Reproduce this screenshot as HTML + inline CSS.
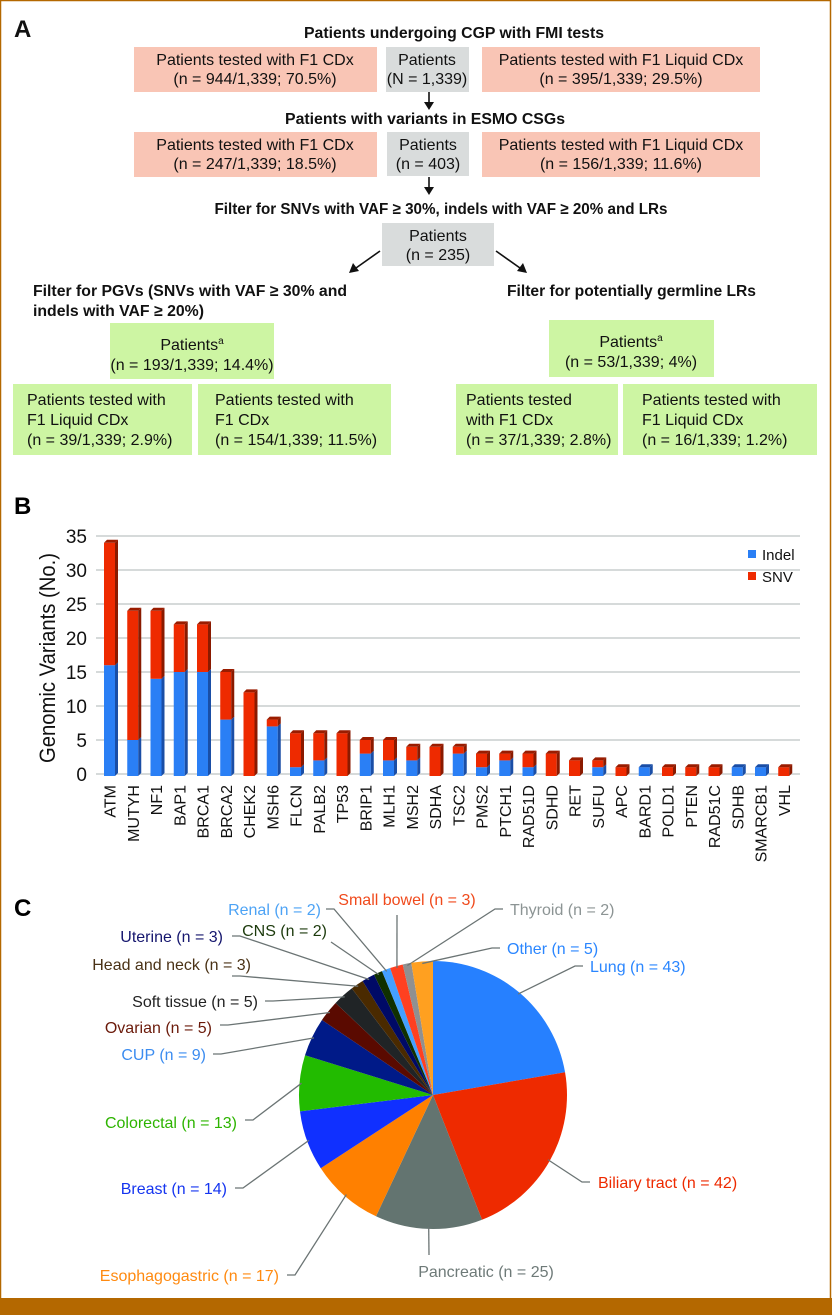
<!DOCTYPE html>
<html><head><meta charset="utf-8">
<style>
html,body{margin:0;padding:0;background:#fff;}
svg{display:block;font-family:"Liberation Sans",sans-serif;}
</style></head>
<body>
<svg id="fig" width="832" height="1315" viewBox="0 0 832 1315" xmlns="http://www.w3.org/2000/svg">
<rect x="0.5" y="0.5" width="830" height="1314" fill="#fff" stroke="#b46800" stroke-width="1.5"/>
<rect x="0" y="1298" width="832" height="17" fill="#b46800"/>

<!-- Panel A -->
<g id="panelA" font-size="16" fill="#111">
<text x="14" y="37" font-size="24" font-weight="bold">A</text>
<text x="454" y="38" text-anchor="middle" font-weight="bold" textLength="300" lengthAdjust="spacingAndGlyphs">Patients undergoing CGP with FMI tests</text>
<rect x="134" y="47" width="243" height="45" fill="#f9c5b5"/>
<text x="255" y="65" text-anchor="middle"><tspan x="255" dy="0">Patients tested with F1 CDx</tspan><tspan x="255" dy="19">(n = 944/1,339; 70.5%)</tspan></text>
<rect x="386" y="47" width="83" height="45" fill="#d9dcdc"/>
<text x="427" y="65" text-anchor="middle"><tspan x="427">Patients</tspan><tspan x="427" dy="19">(N = 1,339)</tspan></text>
<rect x="482" y="47" width="278" height="45" fill="#f9c5b5"/>
<text x="621" y="65" text-anchor="middle"><tspan x="621">Patients tested with F1 Liquid CDx</tspan><tspan x="621" dy="19">(n = 395/1,339; 29.5%)</tspan></text>

<text x="425" y="124" text-anchor="middle" font-weight="bold" textLength="280" lengthAdjust="spacingAndGlyphs">Patients with variants in ESMO CSGs</text>
<rect x="134" y="132" width="243" height="45" fill="#f9c5b5"/>
<text x="255" y="150" text-anchor="middle"><tspan x="255">Patients tested with F1 CDx</tspan><tspan x="255" dy="19">(n = 247/1,339; 18.5%)</tspan></text>
<rect x="387" y="132" width="82" height="44" fill="#d9dcdc"/>
<text x="428" y="150" text-anchor="middle"><tspan x="428">Patients</tspan><tspan x="428" dy="19">(n = 403)</tspan></text>
<rect x="482" y="132" width="278" height="45" fill="#f9c5b5"/>
<text x="621" y="150" text-anchor="middle"><tspan x="621">Patients tested with F1 Liquid CDx</tspan><tspan x="621" dy="19">(n = 156/1,339; 11.6%)</tspan></text>

<text x="441" y="214" text-anchor="middle" font-weight="bold" textLength="453" lengthAdjust="spacingAndGlyphs">Filter for SNVs with VAF ≥ 30%, indels with VAF ≥ 20% and LRs</text>
<rect x="382" y="223" width="112" height="43" fill="#d9dcdc"/>
<text x="438" y="241" text-anchor="middle"><tspan x="438">Patients</tspan><tspan x="438" dy="19">(n = 235)</tspan></text>

<g stroke="#111" stroke-width="1.6" fill="#111">
<line x1="429" y1="92" x2="429" y2="103"/><polygon points="424,102 434,102 429,110" stroke="none"/>
<line x1="429" y1="177" x2="429" y2="188"/><polygon points="424,187 434,187 429,195" stroke="none"/>
<line x1="380" y1="251" x2="356" y2="268"/><polygon points="349,273 353,263 359,271" stroke="none"/>
<line x1="496" y1="251" x2="520" y2="268"/><polygon points="527,273 517,271 523,263" stroke="none"/>
</g>

<text x="33" y="296" font-weight="bold" textLength="314" lengthAdjust="spacingAndGlyphs">Filter for PGVs (SNVs with VAF ≥ 30% and</text>
<text x="33" y="316" font-weight="bold" textLength="171" lengthAdjust="spacingAndGlyphs">indels with VAF ≥ 20%)</text>
<text x="507" y="296" font-weight="bold" textLength="249" lengthAdjust="spacingAndGlyphs">Filter for potentially germline LRs</text>

<rect x="110" y="323" width="164" height="56" fill="#cdf5a3"/>
<text x="192" y="350" text-anchor="middle"><tspan x="192">Patients<tspan font-size="10" dy="-6">a</tspan></tspan><tspan x="192" dy="26">(n = 193/1,339; 14.4%)</tspan></text>
<rect x="13" y="384" width="179" height="71" fill="#cdf5a3"/>
<text x="27" y="405"><tspan x="27">Patients tested with</tspan><tspan x="27" dy="20">F1 Liquid CDx</tspan><tspan x="27" dy="20">(n = 39/1,339; 2.9%)</tspan></text>
<rect x="198" y="384" width="193" height="71" fill="#cdf5a3"/>
<text x="215" y="405"><tspan x="215">Patients tested with</tspan><tspan x="215" dy="20">F1 CDx</tspan><tspan x="215" dy="20">(n = 154/1,339; 11.5%)</tspan></text>

<rect x="549" y="320" width="165" height="57" fill="#cdf5a3"/>
<text x="631" y="347" text-anchor="middle"><tspan x="631">Patients<tspan font-size="10" dy="-6">a</tspan></tspan><tspan x="631" dy="26">(n = 53/1,339; 4%)</tspan></text>
<rect x="456" y="384" width="162" height="71" fill="#cdf5a3"/>
<text x="466" y="405"><tspan x="466">Patients tested</tspan><tspan x="466" dy="20">with F1 CDx</tspan><tspan x="466" dy="20">(n = 37/1,339; 2.8%)</tspan></text>
<rect x="623" y="384" width="194" height="71" fill="#cdf5a3"/>
<text x="642" y="405"><tspan x="642">Patients tested with</tspan><tspan x="642" dy="20">F1 Liquid CDx</tspan><tspan x="642" dy="20">(n = 16/1,339; 1.2%)</tspan></text>
</g>

<!-- Panel B -->
<text x="14" y="514" font-size="24" font-weight="bold">B</text>
<g id="barChart"></g>

<!-- Panel C -->
<text x="14" y="916" font-size="24" font-weight="bold">C</text>
<g id="pieChart"></g>
</svg>

<script>
// ---- Bar chart data ----
const genes = ["ATM","MUTYH","NF1","BAP1","BRCA1","BRCA2","CHEK2","MSH6","FLCN","PALB2","TP53","BRIP1","MLH1","MSH2","SDHA","TSC2","PMS2","PTCH1","RAD51D","SDHD","RET","SUFU","APC","BARD1","POLD1","PTEN","RAD51C","SDHB","SMARCB1","VHL"];
const indelValues = [16,5,14,15,15,8,0,7,1,2,0,3,2,2,0,3,1,2,1,0,0,1,0,1,0,0,0,1,1,0];
const snvValues   = [18,19,10,7,7,7,12,1,5,4,6,2,3,2,4,1,2,1,2,3,2,1,1,0,1,1,1,0,0,1];
const yTicks = [0,5,10,15,20,25,30,35];

// ---- Pie chart data ----
const pieLabels = ["Lung","Biliary tract","Pancreatic","Esophagogastric","Breast","Colorectal","CUP","Ovarian","Soft tissue","Head and neck","Uterine","CNS","Renal","Small bowel","Thyroid","Other"];
const pieValues = [43,42,25,17,14,13,9,5,5,3,3,2,2,3,2,5];

const NS = "http://www.w3.org/2000/svg";
function mk(tag, attrs, parent){
  const e = document.createElementNS(NS, tag);
  for (const k in attrs) e.setAttribute(k, attrs[k]);
  parent.appendChild(e);
  return e;
}

// Bar axes
const y0 = 774, pxPerUnit = 6.8, yMax = 35;
function yScale(v){ return y0 - v * pxPerUnit; }
const xStart = 109.5, xStep = 23.25, barW = 11, depth = 3;
function xScale(i){ return xStart + i * xStep; }

const bc = document.getElementById("barChart");
yTicks.forEach(t => {
  const g = mk("line", {x1:96, x2:800, y1:yScale(t), y2:yScale(t), stroke:"#c9cdcd", "stroke-width":1.5}, bc);
  
  
  const tl = mk("text", {x:87, y:yScale(t)+7, "text-anchor":"end", "font-size":19, fill:"#111"}, bc);
  tl.textContent = t;
  
  
});
const yt = mk("text", {x:0, y:0, "text-anchor":"middle", "font-size":22, fill:"#111", textLength:210, lengthAdjust:"spacingAndGlyphs", transform:"translate(55,658) rotate(-90)"}, bc);
yt.textContent = "Genomic Variants (No.)";



function bar3d(xc, yTop, yBot, front, side, top, name){
  const g = mk("g", {}, bc);
  
  
  const l = xc - barW/2, r = xc + barW/2;
  mk("rect", {x:l, y:yTop, width:barW, height:Math.max(0,yBot-yTop), fill:front}, g);
  mk("polygon", {points:`${r},${yTop} ${r+depth},${yTop-depth} ${r+depth},${yBot-depth} ${r},${yBot}`, fill:side}, g);
  return g;
}
genes.forEach((gname, i) => {
  const xc = xScale(i);
  const ind = indelValues[i], snv = snvValues[i];
  const yb = y0 + 2;
  if (ind > 0) bar3d(xc, yScale(ind), yb, "#2a7ff5", "#1a4ea6", "#4c95ff", "bar-indel-" + gname);
  if (snv > 0) bar3d(xc, yScale(ind + snv), ind > 0 ? yScale(ind) : yb, "#ee2a00", "#8a1a00", "#b02000", "bar-snv-" + gname);
  const tot = ind + snv;
  const l = xc - barW/2, r = xc + barW/2, yt2 = yScale(tot);
  const cap = mk("polygon", {points:`${l},${yt2} ${l+depth},${yt2-depth} ${r+depth},${yt2-depth} ${r},${yt2}`, fill: snv>0 ? "#9a1c00" : "#1a4ea6"}, bc);
  
  
  const lab = mk("text", {x:0, y:0, "text-anchor":"end", "font-size":16, fill:"#111", transform:`translate(${xc+6},785) rotate(-90)`}, bc);
  lab.textContent = gname;
  
  
});
// legend
[["Indel","#2a7ff5",554],["SNV","#ee2a00",576]].forEach(([t,c,y]) => {
  const g = mk("g", {}, bc);
  
  
  mk("rect", {x:748, y:y-4, width:8, height:8, fill:c}, g);
  const tx = mk("text", {x:762, y:y+6, "font-size":15, fill:"#111"}, g);
  tx.textContent = t;
});

// Pie
const pc = document.getElementById("pieChart");
const cx = 433, cy = 1095, R = 134;
const pieColors = ["#2680ff","#ee2a00","#637470","#ff8000","#1030ff","#22bb00","#001a88","#5a0a00","#202426","#4a2a00","#000a66","#103000","#44a0ff","#ff4020","#909090","#ffa020"];
const labelColors = ["#2a86ff","#ee2a00","#6e7a78","#ff8a10","#1535f0","#2db400","#3b8cf0","#6b1a0a","#222222","#4a3216","#15166e","#1c3a0c","#4da3f5","#f04a1c","#8c9494","#2a86ff"];
// label layout: [textX, textY(center), anchor, lineStartX, lineStartY, elbowDx]
const labelLayout = [
 [590,966,"start",583,966,-8],
 [598,1182,"start",590,1182,-8],
 [486,1271,"middle",429,1255,0],
 [279,1275,"end",287,1275,8],
 [227,1188,"end",235,1188,8],
 [237,1122,"end",245,1120,8],
 [206,1054,"end",213,1054,8],
 [212,1027,"end",220,1025,8],
 [258,1001,"end",265,1001,8],
 [251,964,"end",232,976,8],
 [223,936,"end",232,936,8],
 [327,930,"end",331,942,0],
 [321,909,"end",326,909,8],
 [407,899,"middle",397,915,0],
 [510,909,"start",503,909,-8],
 [507,948,"start",500,948,-8]
];
const total = pieValues.reduce((a,b)=>a+b,0);
let acc = 0;
pieValues.forEach((v, i) => {
  const a0 = acc / total * 2 * Math.PI; acc += v;
  const a1 = acc / total * 2 * Math.PI;
  const p = a => [cx + R*Math.sin(a), cy - R*Math.cos(a)];
  const [x0,y0p] = p(a0), [x1,y1p] = p(a1);
  const large = (a1 - a0) > Math.PI ? 1 : 0;
  const s = mk("path", {d:`M${cx},${cy} L${x0},${y0p} A${R},${R} 0 ${large} 1 ${x1},${y1p} Z`, fill:pieColors[i]}, pc);
  
  
  const am = (a0 + a1) / 2;
  const [ex, ey] = [cx + (R-2)*Math.sin(am), cy - (R-2)*Math.cos(am)];
  const L = labelLayout[i];
  const pts = L[5] !== 0 ? `${L[3]},${L[4]} ${L[3]+L[5]},${L[4]} ${ex},${ey}` : `${L[3]},${L[4]} ${ex},${ey}`;
  const ln = mk("polyline", {points:pts, fill:"none", stroke:"#6b7474", "stroke-width":1.3}, pc);
  
  
  const t = mk("text", {x:L[0], y:L[1]+6, "text-anchor":L[2], "font-size":16, fill:labelColors[i]}, pc);
  t.textContent = pieLabels[i] + " (n = " + v + ")";
  
  
});
</script>
</body></html>
